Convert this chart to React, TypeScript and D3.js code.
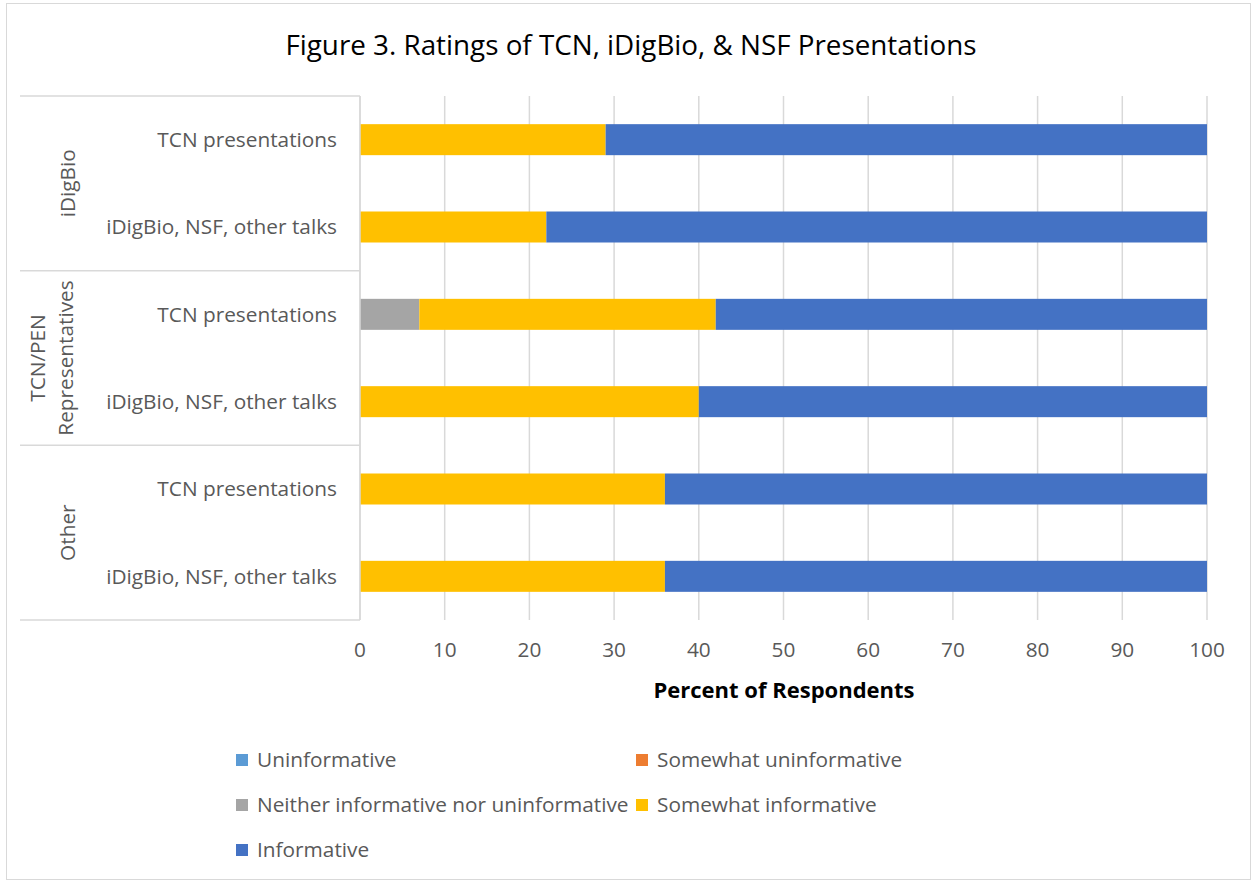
import { useEffect, useRef } from "react";
import * as d3 from "d3";

const groups = ["iDigBio", "TCN/PEN Representatives", "Other"];
const groupLines = [["iDigBio"], ["TCN/PEN", "Representatives"], ["Other"]];
const rowLabels = [
  "TCN presentations",
  "iDigBio, NSF, other talks",
  "TCN presentations",
  "iDigBio, NSF, other talks",
  "TCN presentations",
  "iDigBio, NSF, other talks",
];
const rowGroup = [0, 0, 1, 1, 2, 2];

const seriesNames = [
  "Uninformative",
  "Somewhat uninformative",
  "Neither informative nor uninformative",
  "Somewhat informative",
  "Informative",
];
const seriesColors = ["#5B9BD5", "#ED7D31", "#A5A5A5", "#FFC000", "#4472C4"];

const uninformative = [0, 0, 0, 0, 0, 0];
const somewhatUninformative = [0, 0, 0, 0, 0, 0];
const neither = [0, 0, 7, 0, 0, 0];
const somewhatInformative = [29, 22, 35, 40, 36, 36];
const informative = [71, 78, 58, 60, 64, 64];

const xTicks = [0, 10, 20, 30, 40, 50, 60, 70, 80, 90, 100];

export default function App() {
  const ref = useRef<SVGSVGElement>(null);

  useEffect(() => {
    const svg = d3.select(ref.current);
    svg.selectAll("*").remove();
    const W = 1252, H = 882;
    const font = "'Open Sans', sans-serif";
    const fs = 20.8;
    const plot = { left: 360, right: 1207, top: 96, bottom: 620 };

    svg.append("rect")
      .attr("x", 6.5).attr("y", 3.5).attr("width", W - 8).attr("height", H - 6)
      .attr("fill", "#fff").attr("stroke", "#D9D9D9");

    const x = d3.scaleLinear().domain([0, 100]).range([plot.left, plot.right]);
    const y = d3.scaleBand<number>()
      .domain(d3.range(rowLabels.length))
      .range([plot.top, plot.bottom])
      .paddingInner(0.645).paddingOuter(0.3225);

    // gridlines
    svg.append("g").selectAll("line").data(xTicks).join("line")
      .attr("x1", d => x(d)).attr("x2", d => x(d))
      .attr("y1", plot.top).attr("y2", plot.bottom)
      .attr("stroke", "#D9D9D9").attr("stroke-width", 1.5);

    // stacked data
    const table = rowLabels.map((_, i) => ({
      [seriesNames[0]]: uninformative[i],
      [seriesNames[1]]: somewhatUninformative[i],
      [seriesNames[2]]: neither[i],
      [seriesNames[3]]: somewhatInformative[i],
      [seriesNames[4]]: informative[i],
      idx: i,
    }));
    const stacked = d3.stack<any>().keys(seriesNames)(table);

    svg.append("g").selectAll("g").data(stacked).join("g")
      .attr("fill", (_, i) => seriesColors[i])
      .selectAll("rect").data(d => d).join("rect")
      .attr("x", d => x(d[0]))
      .attr("width", d => x(d[1]) - x(d[0]))
      .attr("y", d => y(d.data.idx)!)
      .attr("height", y.bandwidth());

    // category axis frame
    const axisG = svg.append("g").attr("stroke", "#D9D9D9").attr("stroke-width", 1.5);
    const groupBounds = [plot.top, ...groups.map((_, g) => {
      const last = rowGroup.lastIndexOf(g);
      return y(last)! + y.bandwidth() + y.step() * 0.3225;
    })];
    axisG.selectAll("line.h").data(groupBounds).join("line")
      .attr("x1", 20).attr("x2", plot.left)
      .attr("y1", d => d).attr("y2", d => d);
    axisG.append("line")
      .attr("x1", plot.left).attr("x2", plot.left)
      .attr("y1", plot.top).attr("y2", plot.bottom);

    // row labels
    svg.append("g").selectAll("text").data(rowLabels).join("text")
      .attr("x", 337)
      .attr("y", (_, i) => y(i)! + y.bandwidth() / 2)
      .attr("dy", "0.35em")
      .attr("text-anchor", "end")
      .attr("font-family", font).attr("font-size", fs).attr("fill", "#595959")
      .text(d => d);

    // group labels
    groupLines.forEach((lines, g) => {
      const cy = (groupBounds[g] + groupBounds[g + 1]) / 2;
      const t = svg.append("text")
        .attr("transform", `translate(${lines.length > 1 ? 52 : 68},${cy}) rotate(-90)`)
        .attr("text-anchor", "middle")
        .attr("font-family", font).attr("font-size", fs).attr("fill", "#595959");
      lines.forEach((l, k) => {
        t.append("tspan").attr("x", 0)
          .attr("dy", k === 0 ? (lines.length > 1 ? "-0.32em" : "0.35em") : "1.34em")
          .text(l);
      });
    });

    // x tick labels
    svg.append("g").selectAll("text").data(xTicks).join("text")
      .attr("x", d => x(d)).attr("y", 650).attr("dy", "0.35em")
      .attr("text-anchor", "middle")
      .attr("font-family", font).attr("font-size", fs).attr("fill", "#595959")
      .text(d => d);

    svg.append("text")
      .attr("x", (plot.left + plot.right) / 2 + 0.5).attr("y", 690).attr("dy", "0.35em")
      .attr("text-anchor", "middle")
      .attr("font-family", font).attr("font-size", 22).attr("font-weight", "bold").attr("fill", "#000")
      .text("Percent of Respondents");

    svg.append("text")
      .attr("x", 631).attr("y", 45).attr("dy", "0.35em")
      .attr("text-anchor", "middle")
      .attr("font-family", font).attr("font-size", 27.8).attr("fill", "#000")
      .text("Figure 3. Ratings of TCN, iDigBio, & NSF Presentations");

    // legend
    const legendPos = [[236, 760], [636, 760], [236, 805], [636, 805], [236, 850]];
    const lg = svg.append("g").selectAll("g").data(seriesNames).join("g")
      .attr("transform", (_, i) => `translate(${legendPos[i][0]},${legendPos[i][1]})`);
    lg.append("rect").attr("x", 0).attr("y", -6).attr("width", 12).attr("height", 12)
      .attr("fill", (_, i) => seriesColors[i]);
    lg.append("text").attr("x", 21).attr("dy", "0.35em")
      .attr("font-family", font).attr("font-size", fs).attr("fill", "#595959")
      .text(d => d);
  }, []);

  return (
    <svg ref={ref} width={1252} height={882}
      style={{ position: "absolute", left: 0, top: 0, display: "block" }} />
  );
}
